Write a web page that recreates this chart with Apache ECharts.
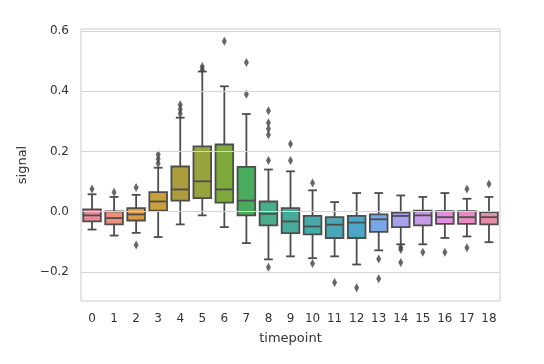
<!DOCTYPE html>
<html>
<head>
<meta charset="utf-8">
<script src="https://cdn.jsdelivr.net/npm/echarts@6/dist/echarts.min.js"></script>
<style>
html,body{margin:0;padding:0;background:#fff;}
#chart{width:544px;height:364px;}
</style>
</head>
<body>
<div id="chart"></div>
<script>
// ---- data ----
var timepoints = ['0','1','2','3','4','5','6','7','8','9','10','11','12','13','14','15','16','17','18'];
// [lower whisker, Q1, median, Q3, upper whisker]
var lowerWhisker = [-0.059,-0.079,-0.070,-0.084,-0.042,-0.012,-0.051,-0.104,-0.158,-0.148,-0.154,-0.148,-0.175,-0.128,-0.108,-0.108,-0.087,-0.082,-0.101];
var q1Values     = [-0.032,-0.042,-0.029, 0.004, 0.037, 0.045, 0.030,-0.012,-0.045,-0.071,-0.075,-0.087,-0.087,-0.067,-0.051,-0.045,-0.040,-0.040,-0.042];
var medianValues = [-0.012,-0.021,-0.009, 0.034, 0.074, 0.101, 0.074, 0.037,-0.007,-0.032,-0.049,-0.043,-0.036,-0.025,-0.014,-0.012,-0.018,-0.018,-0.018];
var q3Values     = [ 0.008, 0.001, 0.012, 0.065, 0.150, 0.217, 0.223, 0.149, 0.034, 0.012,-0.014,-0.018,-0.014,-0.009,-0.003, 0.004, 0.002, 0.002,-0.001];
var upperWhisker = [ 0.058, 0.049, 0.056, 0.146, 0.312, 0.465, 0.416, 0.324, 0.140, 0.134, 0.071, 0.032, 0.062, 0.062, 0.054, 0.049, 0.062, 0.043, 0.049];
var outliers = [
  [0.075],
  [0.065],
  [0.080,-0.110],
  [0.160,0.175,0.190],
  [0.325,0.340,0.355],
  [0.472,0.482],
  [0.565],
  [0.390,0.495],
  [0.170,0.255,0.275,0.295,0.335,-0.184],
  [0.170,0.225],
  [0.095,-0.172],
  [-0.235],
  [-0.252],
  [-0.157,-0.222],
  [-0.118,-0.125,-0.168],
  [-0.134],
  [-0.134],
  [0.075,-0.119],
  [0.092]
];
var yTicks = [-0.2, 0.0, 0.2, 0.4, 0.6];
var boxColors = ['#e98a9b','#e8907c','#e0993f','#c9a03c','#ab9d3b','#97a33d','#7daa3b','#49ac5d','#48ad8b','#47ab9c','#48aaa8','#49a8b5','#4ba6c7','#78a7e8','#a6a1ea','#c99ae8','#e58ce2','#e88bc5','#e88ca9'];

// ---- build series data ----
var boxData = timepoints.map(function(t, i){
  return [i, lowerWhisker[i], q1Values[i], medianValues[i], q3Values[i], upperWhisker[i]];
});
var flierData = [];
outliers.forEach(function(arr, i){ arr.forEach(function(v){ flierData.push([i, v]); }); });

var edge = '#4d4d4d';
var lw = 1.8;

function renderBox(params, api){
  var i = api.value(0);
  var bw = api.size([1, 0])[0] * 0.8;
  var cw = bw * 0.5;
  var pMin = api.coord([i, api.value(1)]);
  var pQ1 = api.coord([i, api.value(2)]);
  var pMed = api.coord([i, api.value(3)]);
  var pQ3 = api.coord([i, api.value(4)]);
  var pMax = api.coord([i, api.value(5)]);
  var x = pQ1[0];
  var st = {stroke: edge, lineWidth: lw, fill: null};
  return {
    type: 'group',
    children: [
      {type:'line', shape:{x1:x, y1:pQ1[1], x2:x, y2:pMin[1]}, style: st},
      {type:'line', shape:{x1:x, y1:pQ3[1], x2:x, y2:pMax[1]}, style: st},
      {type:'line', shape:{x1:x-cw/2, y1:pMin[1], x2:x+cw/2, y2:pMin[1]}, style: st},
      {type:'line', shape:{x1:x-cw/2, y1:pMax[1], x2:x+cw/2, y2:pMax[1]}, style: st},
      {type:'rect', shape:{x:x-bw/2, y:pQ3[1], width:bw, height:pQ1[1]-pQ3[1]},
        style:{fill: boxColors[i], stroke: edge, lineWidth: lw}},
      {type:'line', shape:{x1:x-bw/2, y1:pMed[1], x2:x+bw/2, y2:pMed[1]}, style: st}
    ]
  };
}

var chart = echarts.init(document.getElementById('chart'), null, {renderer:'canvas'});
var txt = '#333333';
var fontFam = 'DejaVu Sans';
chart.setOption({
  backgroundColor: '#ffffff',
  animation: false,
  grid: {left: 81, right: 44, top: 29, bottom: 63, show: true, borderColor: '#cccccc', borderWidth: 1, backgroundColor: '#ffffff'},
  xAxis: {
    type: 'category',
    data: timepoints,
    name: 'timepoint',
    nameLocation: 'middle',
    nameGap: 31,
    nameTextStyle: {color: txt, fontSize: 13, fontFamily: fontFam},
    axisLine: {show: false},
    axisTick: {show: false},
    axisLabel: {color: txt, fontSize: 12, fontFamily: fontFam, margin: 12, interval: 0},
    splitLine: {show: false}
  },
  yAxis: {
    type: 'value',
    min: -0.296,
    max: 0.606,
    name: 'signal',
    nameLocation: 'middle',
    nameGap: 52,
    nameRotate: 90,
    nameTextStyle: {color: txt, fontSize: 13, fontFamily: fontFam},
    axisLine: {show: false},
    axisTick: {show: false, customValues: yTicks},
    axisLabel: {color: txt, fontSize: 12, fontFamily: fontFam, margin: 12, customValues: yTicks,
      formatter: function(v){ var s = v.toFixed(1); return s.charAt(0)==='-' ? '\u2212'+s.slice(1) : s; }},
    splitLine: {show: false}
  },
  series: [
    {
      type: 'scatter',
      data: [],
      z: 1,
      silent: true,
      markLine: {
        silent: true,
        symbol: ['none', 'none'],
        label: {show: false},
        lineStyle: {color: '#d5d5d5', width: 1, type: 'solid'},
        emphasis: {disabled: true},
        data: yTicks.map(function(v){ return {yAxis: v}; })
      }
    },
    {
      type: 'custom',
      renderItem: renderBox,
      data: boxData,
      encode: {x: 0, y: [1,2,3,4,5]},
      z: 2
    },
    {
      type: 'scatter',
      data: flierData,
      symbol: 'diamond',
      symbolSize: [5, 9],
      itemStyle: {color: '#404040'},
      z: 3
    }
  ]
});
</script>
</body>
</html>
